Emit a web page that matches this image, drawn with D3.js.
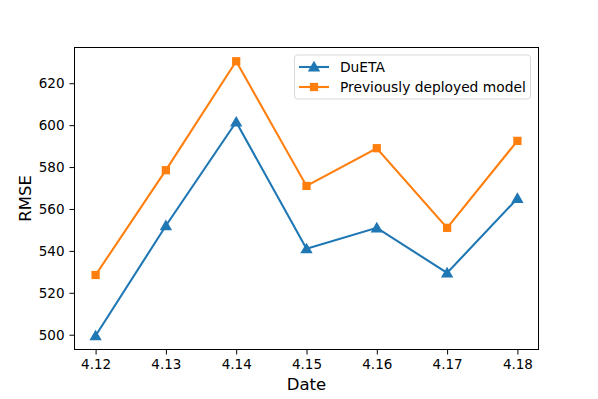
<!DOCTYPE html>
<html>
<head>
<meta charset="utf-8">
<script src="https://cdn.jsdelivr.net/npm/d3@7"></script>
<style>
  body { margin: 0; background: #fff; }
  svg { font-family: "DejaVu Sans", sans-serif; }
</style>
</head>
<body>
<svg id="chart" width="598" height="399"></svg>
<script>
// data
var dates = ["4.12", "4.13", "4.14", "4.15", "4.16", "4.17", "4.18"];
var duetaRmse = [499.5, 552, 601.5, 541, 551, 529.5, 565];
var prevRmse = [528.5, 578.5, 630.5, 571, 589, 551, 592.5];
var yTicks = [500, 520, 540, 560, 580, 600, 620];

var series = [
    { name: "DuETA", values: duetaRmse, color: "#1f77b4", marker: "triangle" },
    { name: "Previously deployed model", values: prevRmse, color: "#ff7f0e", marker: "square" }
];

// plot box (note: "top" is taken by window.top, so use other names)
var plotL = 74.5, plotR = 538.5, plotT = 47.5, plotB = 349.5;
var svg = d3.select("#chart");

// matplotlib-ish 5% margin on both axes
var x = d3.scaleLinear().domain([-0.3, dates.length - 1 + 0.3]).range([plotL, plotR]);
var allVals = duetaRmse.concat(prevRmse);
var lo = d3.min(allVals), hi = d3.max(allVals), pad = (hi - lo) * 0.05;
var y = d3.scaleLinear().domain([lo - pad, hi + pad]).range([plotB, plotT]);

var xAxis = d3.axisBottom(x)
    .tickValues(d3.range(dates.length))
    .tickFormat(function(i) { return dates[i]; })
    .tickSizeInner(5).tickSizeOuter(0).tickPadding(5);
var yAxis = d3.axisLeft(y)
    .tickValues(yTicks)
    .tickSizeInner(5).tickSizeOuter(0).tickPadding(5);

var gx = svg.append("g").attr("transform", "translate(0," + plotB + ")").call(xAxis);
var gy = svg.append("g").attr("transform", "translate(" + plotL + ",0)").call(yAxis);
[gx, gy].forEach(function(g) {
    g.select(".domain").remove();
    g.selectAll(".tick line").attr("stroke", "#000").attr("stroke-width", 1);
    g.selectAll(".tick text").attr("fill", "#000").style("font-size", "13.5px").style("font-family", "DejaVu Sans");
});

// frame
svg.append("rect")
    .attr("x", plotL).attr("y", plotT)
    .attr("width", plotR - plotL).attr("height", plotB - plotT)
    .attr("fill", "none").attr("stroke", "#000").attr("stroke-width", 1);

var line = d3.line()
    .x(function(d, i) { return x(i); })
    .y(function(d) { return y(d); });

var triSym = d3.symbol().type(d3.symbolTriangle).size(66);
var sqSym = d3.symbol().type(d3.symbolSquare).size(68);

function drawMarker(g, kind, cx, cy, color) {
    g.append("path")
        .attr("d", kind == "triangle" ? triSym() : sqSym())
        .attr("transform", "translate(" + cx + "," + (kind == "triangle" ? cy + 1 : cy) + ")")
        .attr("fill", color);
}

series.forEach(function(s) {
    var g = svg.append("g");
    g.append("path")
        .datum(s.values)
        .attr("d", line)
        .attr("fill", "none")
        .attr("stroke", s.color)
        .attr("stroke-width", 2.1);
    s.values.forEach(function(v, i) {
        drawMarker(g, s.marker, x(i), y(v), s.color);
    });
});

// axis labels
svg.append("text")
    .attr("x", (plotL + plotR) / 2).attr("y", 390)
    .attr("text-anchor", "middle")
    .style("font-size", "16.5px")
    .text("Date");
svg.append("text")
    .attr("transform", "translate(31," + (plotT + plotB) / 2 + ") rotate(-90)")
    .attr("text-anchor", "middle")
    .style("font-size", "16.5px")
    .text("RMSE");

// legend
var leg = svg.append("g");
leg.append("rect")
    .attr("x", 294.5).attr("y", 55).attr("width", 236).attr("height", 44)
    .attr("rx", 3).attr("fill", "#fff").attr("fill-opacity", 0.8)
    .attr("stroke", "#d9d9d9").attr("stroke-width", 1);
series.forEach(function(s, i) {
    var cy = 67 + i * 20;
    leg.append("line")
        .attr("x1", 299).attr("x2", 329).attr("y1", cy).attr("y2", cy)
        .attr("stroke", s.color).attr("stroke-width", 2.1);
    drawMarker(leg, s.marker, 314, cy, s.color);
    leg.append("text")
        .attr("x", 340).attr("y", cy + 5)
        .style("font-size", "13.8px")
        .text(s.name);
});
</script>
</body>
</html>
